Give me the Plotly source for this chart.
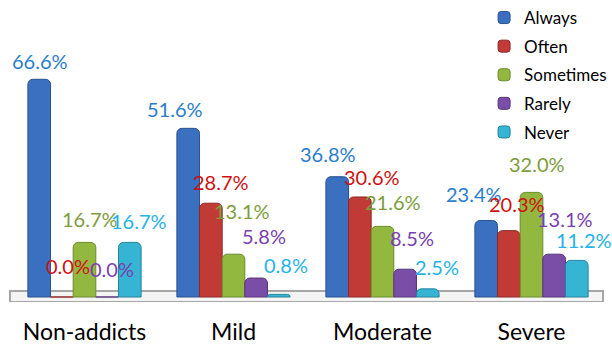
import plotly.graph_objects as go

categories = ["Non-addicts", "Mild", "Moderate", "Severe"]
series_names = ["Always", "Often", "Sometimes", "Rarely", "Never"]
always = [66.6, 51.6, 36.8, 23.4]
often = [0.0, 28.7, 30.6, 20.3]
sometimes = [16.7, 13.1, 21.6, 32.0]
rarely = [0.0, 5.8, 8.5, 13.1]
never = [16.7, 0.8, 2.5, 11.2]
values = [always, often, sometimes, rarely, never]

# styles
bar_colors = ["#3b6fc0", "#c13a36", "#93b840", "#7a4ea6", "#35b4d4"]
edge_colors = ["#2a528f", "#8f2825", "#6c8a2c", "#56357a", "#24849c"]
label_colors = ["#2a7dcc", "#d01010", "#7d9c3c", "#7a3fb0", "#25b2e8"]
# per-label pixel offsets (dx, dy) from the bar's top centre
label_offsets = [
    [(1, -18), (6, -31), (5, -23), (5, -28), (9, -21)],
    [(-13, -19), (10, -21), (8, -43), (8, -42), (7, -29)],
    [(-9, -23), (12, -20), (10, -24), (7, -31), (9, -22)],
    [(-12, -27), (8, -27), (5, -28), (11, -35), (7, -20)],
]

FONT = "Lato"
fig = go.Figure()
for i, name in enumerate(series_names):
    fig.add_trace(go.Bar(
        x=categories, y=values[i], name=name,
        marker=dict(color=bar_colors[i], line=dict(color=edge_colors[i], width=1),
                    cornerradius=5),
        legendgroup=name,
    ))

n = len(series_names)
bargap = 0.24
slot = (1 - bargap) / n
annotations = []
for ci, cat in enumerate(categories):
    for si in range(n):
        v = values[si][ci]
        dx, dy = label_offsets[ci][si]
        xpos = ci - (1 - bargap) / 2 + slot * (si + 0.5)
        annotations.append(dict(
            x=xpos, y=v, xref="x", yref="y", text=f"{v:.1f}%",
            showarrow=False, xshift=dx, yshift=-dy,
            font=dict(family=FONT, size=20, color=label_colors[si]),
        ))

shapes = [
    dict(type="rect", xref="paper", yref="y", x0=0.0, x1=0.995, y0=-1.53, y1=1.83,
         fillcolor="#f4f4f4", line=dict(color="#a6a6a6", width=2), layer="below"),
]

fig.update_layout(
    width=612, height=345,
    margin=dict(l=10, r=6, t=10, b=43, autoexpand=False),
    paper_bgcolor="white", plot_bgcolor="white",
    barmode="group", bargap=bargap, bargroupgap=0,
    font=dict(family=FONT, color="black"),
    xaxis=dict(range=[-0.5, 3.5], showgrid=False, zeroline=False, showline=False,
               ticks="outside", ticklen=9, tickcolor="rgba(0,0,0,0)",
               tickfont=dict(family=FONT, size=23, color="black")),
    yaxis=dict(range=[-1.53, 87.8], visible=False),
    legend=dict(x=0.791, y=1.0087, xref="container", yref="container",
                xanchor="left", yanchor="top",
                traceorder="grouped", tracegroupgap=3.5,
                font=dict(family=FONT, size=17, color="black"),
                bgcolor="rgba(0,0,0,0)"),
    annotations=annotations,
    shapes=shapes,
)

fig.write_html("out.html")
